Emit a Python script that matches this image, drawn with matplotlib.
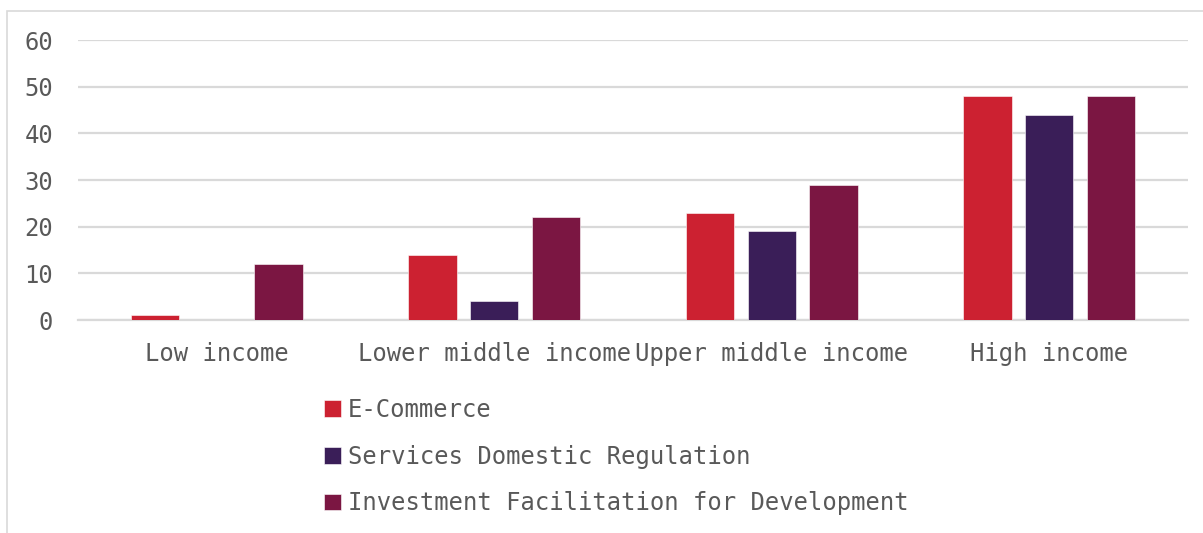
import matplotlib
matplotlib.use("Agg")
import matplotlib.pyplot as plt
import numpy as np
from matplotlib.patches import Rectangle

categories = ["Low income", "Lower middle income", "Upper middle income", "High income"]
series_names = ["E-Commerce", "Services Domestic Regulation", "Investment Facilitation for Development"]
ecommerce = [1, 14, 23, 48]
services = [0, 4, 19, 44]
investment = [12, 22, 29, 48]
colors = ["#CC2131", "#3A1E58", "#7B1642"]
yticks = [0, 10, 20, 30, 40, 50, 60]

plt.rcParams['font.family'] = ['DejaVu Sans Mono']
W, H = 1203, 533
fig = plt.figure(figsize=(W/100, H/100), dpi=100)
fig.patch.set_facecolor("white")
fig.patches.append(Rectangle((7/W, -0.1), 1.2, 1 - 11/H + 0.1, transform=fig.transFigure,
                             fill=False, edgecolor="#D9D9D9", linewidth=1.2, zorder=0))

ax = fig.add_axes([78/W, 1 - 320/H, (1188-78)/W, (320-40)/H])
x = np.arange(len(categories))
step = 0.223
width = 0.174
for i, (vals, name) in enumerate(zip([ecommerce, services, investment], series_names)):
    ax.bar(x + (i-1)*step, vals, width, color=colors[i], label=name, zorder=3,
           edgecolor="white", linewidth=0.4)

FS = 17.2
ax.set_xlim(-0.5, len(categories) - 0.5)
ax.set_ylim(0, 60)
ax.set_yticks(yticks)
ax.set_xticks(x)
ax.set_xticklabels(categories)
ax.yaxis.grid(True, color="#D9D9D9", linewidth=1.6, zorder=0)
ax.set_axisbelow(True)
for s in ["top", "right", "left"]:
    ax.spines[s].set_visible(False)
ax.spines["bottom"].set_color("#D9D9D9")
ax.spines["bottom"].set_linewidth(1.6)
ax.tick_params(axis="y", length=0, pad=18, labelsize=FS, labelcolor="#595959")
ax.tick_params(axis="x", length=0, pad=16, labelsize=FS, labelcolor="#595959")

leg = fig.legend(loc="upper left", bbox_to_anchor=(324/W, 1 - 398/H), frameon=False,
                 fontsize=FS, labelcolor="#595959", handlelength=0.7, handleheight=0.7,
                 handletextpad=0.3, labelspacing=0.95, borderaxespad=0, borderpad=0)

fig.savefig("out.png", dpi=100, facecolor="white")
